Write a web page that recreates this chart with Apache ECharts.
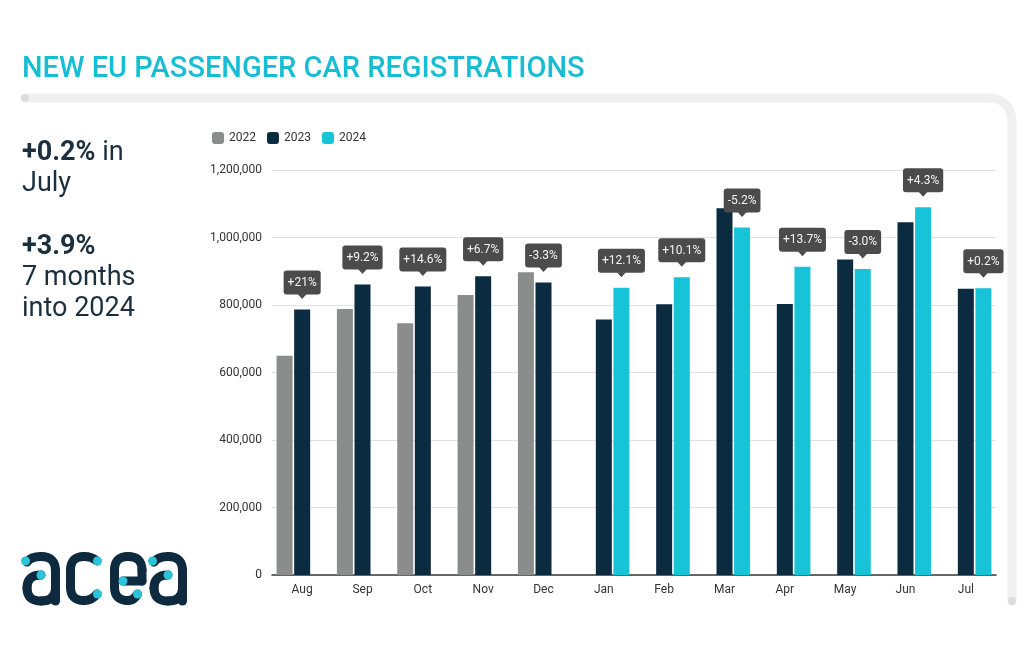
<!DOCTYPE html>
<html>
<head>
<meta charset="utf-8">
<script src="https://cdn.jsdelivr.net/npm/echarts@6/dist/echarts.min.js"></script>
<style>
html,body{margin:0;padding:0;background:#fff;}
#c{width:1024px;height:652px;}
</style>
</head>
<body>
<div id="c"></div>
<script>
const categories = ['Aug','Sep','Oct','Nov','Dec','Jan','Feb','Mar','Apr','May','Jun','Jul'];
const values2022 = [650000, 788000, 746000, 830000, 897000, null, null, null, null, null, null, null];
const values2023 = [787000, 861000, 855000, 885000, 867000, 757000, 802000, 1087000, 803000, 935000, 1045000, 848000];
const values2024 = [null, null, null, null, null, 851000, 882000, 1030000, 913000, 907000, 1090000, 850000];
const changeLabels = ['+21%', '+9.2%', '+14.6%', '+6.7%', '-3.3%', '+12.1%', '+10.1%', '-5.2%', '+13.7%', '-3.0%', '+4.3%', '+0.2%'];
const yMax = 1200000;
const yStep = 200000;

const C22 = '#8b8d8c', C23 = '#0b2b40', C24 = '#16c3d9';
const NAVY = '#0d2a3f', CYAN = '#2bc4d8';
const calloutBg = '#4b4b4b';

const labelStyle = {
  position: 'top', distance: 15, color: '#f4f4f4', fontSize: 12, lineHeight: 13, fontFamily: 'Roboto',
  backgroundColor: calloutBg, padding: [6, 4, 5, 4], borderRadius: 3,
  formatter: p => changeLabels[p.dataIndex]
};
const pointer = {
  symbol: 'triangle', symbolSize: [9, 5], symbolRotate: 180, symbolOffset: [0, -13],
  itemStyle: { color: calloutBg }, label: { show: false }, silent: true, animation: false
};
function withLabels(vals, showFn) {
  return vals.map((v, i) => v == null ? '-' : { value: v, label: { show: showFn(i) } });
}
function markerData(vals, showFn) {
  const out = [];
  vals.forEach((v, i) => { if (v != null && showFn(i)) out.push({ coord: [categories[i], v] }); });
  return out;
}
const show23 = i => values2024[i] == null;
const show24 = i => true;

// convert a simple "M L Q" path string into graphic line / bezierCurve elements
function strokePath(d, style, z) {
  const tok = d.replace(/([MLQ])/g, ' $1 ').replace(/,/g, ' ').trim().split(/\s+/);
  const els = [];
  let i = 0, cx = 0, cy = 0;
  while (i < tok.length) {
    const c = tok[i++];
    if (c === 'M') { cx = +tok[i++]; cy = +tok[i++]; }
    else if (c === 'L') {
      const x = +tok[i++], y = +tok[i++];
      els.push({ type: 'line', z: z, shape: { x1: cx, y1: cy, x2: x, y2: y }, style: style });
      cx = x; cy = y;
    } else if (c === 'Q') {
      const qx = +tok[i++], qy = +tok[i++], x = +tok[i++], y = +tok[i++];
      els.push({ type: 'bezierCurve', z: z, shape: { x1: cx, y1: cy, cpx1: qx, cpy1: qy, x2: x, y2: y }, style: style });
      cx = x; cy = y;
    } else { i++; }
  }
  return els;
}
const logoStroke = { stroke: NAVY, lineWidth: 9, fill: null, lineCap: 'round', lineJoin: 'round' };
function dot(x, y) { return { type: 'circle', z: 5, shape: { cx: x, cy: y, r: 4.5 }, style: { fill: CYAN } }; }

function logoLetterA(dx) {
  return [].concat(
    strokePath(`M${27+dx},562 Q${31+dx},556.5 ${41+dx},556.5 Q${55.5+dx},556.5 ${55.5+dx},571 L${55.5+dx},601`, logoStroke, 1),
    strokePath(`M${41+dx},575 Q${27+dx},575 ${27+dx},588 Q${27+dx},601 ${41+dx},601 Q${55+dx},601 ${55.5+dx},589`, logoStroke, 1),
    [dot(25.5 + dx, 561), dot(41 + dx, 575)]
  );
}

const frameStyle = { stroke: '#f0f0f0', lineWidth: 9, fill: null, lineCap: 'round' };

const graphics = [].concat(
  strokePath('M25,98 L987,98 Q1012,98 1012,123 L1012,601', frameStyle, -10),
  [
    { type: 'circle', z: -9, shape: { cx: 25, cy: 98, r: 4 }, style: { fill: '#dcdcdc' } },
    { type: 'circle', z: -9, shape: { cx: 1012, cy: 601, r: 4 }, style: { fill: '#dcdcdc' } },
    { type: 'text', left: 22, top: 55, style: { text: 'NEW EU PASSENGER CAR REGISTRATIONS', fontSize: 29, fontWeight: 500, fontFamily: 'Roboto', fill: '#17bed3' } },
    { type: 'text', left: 22, top: 138, style: {
        text: '{b|+0.2%} in\nJuly', fontSize: 27, fontFamily: 'Roboto', fill: '#1b2f3e', lineHeight: 31,
        rich: { b: { fontWeight: 'bold', fontSize: 27, fontFamily: 'Roboto', fill: '#1b2f3e', lineHeight: 31 } } } },
    { type: 'text', left: 22, top: 232, style: {
        text: '{b|+3.9%}\n7 months\ninto 2024', fontSize: 27, fontFamily: 'Roboto', fill: '#1b2f3e', lineHeight: 31,
        rich: { b: { fontWeight: 'bold', fontSize: 27, fontFamily: 'Roboto', fill: '#1b2f3e', lineHeight: 31 } } } }
  ],
  strokePath('M97,561 Q92,556.5 84,556.5 Q70.5,556.5 70.5,570 L70.5,587 Q70.5,600.5 84,600.5 Q92,600.5 97,594', logoStroke, 1),
  [dot(97.5, 561), dot(97.5, 594)],
  strokePath('M123,581 L142,581 L142,570 Q142,556.5 128,556.5 Q114.5,556.5 114.5,570 L114.5,587 Q114.5,600.5 128,600.5 Q134,600.5 137.5,594', logoStroke, 1),
  [dot(123, 581), dot(137.5, 594)],
  logoLetterA(0), logoLetterA(127)
);

const chart = echarts.init(document.getElementById('c'), null, { renderer: 'canvas' });

chart.setOption({
  animation: false,
  backgroundColor: '#ffffff',
  textStyle: { fontFamily: 'Roboto' },
  graphic: graphics,
  legend: {
    left: 207, top: 127, itemWidth: 12, itemHeight: 12, itemGap: 11, icon: 'roundRect',
    textStyle: { fontSize: 12, color: '#333', fontFamily: 'Roboto' },
    data: ['2022', '2023', '2024'], selectedMode: false
  },
  grid: { left: 272, right: 28, top: 170, bottom: 77, containLabel: false },
  xAxis: {
    type: 'category', data: categories,
    axisTick: { show: false },
    axisLine: { lineStyle: { color: '#3a3a3a', width: 1.5 } },
    axisLabel: { color: '#333', fontSize: 12, margin: 9, fontFamily: 'Roboto' }
  },
  yAxis: {
    type: 'value', min: 0, max: yMax, interval: yStep,
    axisLine: { show: false }, axisTick: { show: false },
    splitLine: { lineStyle: { color: '#e2e2e2', width: 1 } },
    axisLabel: { color: '#333', fontSize: 12, margin: 10, fontFamily: 'Roboto',
      formatter: v => v.toLocaleString('en-US') }
  },
  series: [
    { name: '2022', type: 'bar', data: values2022.map(v => v == null ? '-' : v),
      barWidth: 16, barGap: '10%', itemStyle: { color: C22 } },
    { name: '2023', type: 'bar', data: withLabels(values2023, show23),
      barWidth: 16, barGap: '10%', itemStyle: { color: C23 }, label: labelStyle,
      markPoint: Object.assign({ data: markerData(values2023, show23) }, pointer) },
    { name: '2024', type: 'bar', data: withLabels(values2024, show24),
      barWidth: 16, barGap: '10%', itemStyle: { color: C24 }, label: labelStyle,
      markPoint: Object.assign({ data: markerData(values2024, show24) }, pointer) }
  ]
});
</script>
</body>
</html>
